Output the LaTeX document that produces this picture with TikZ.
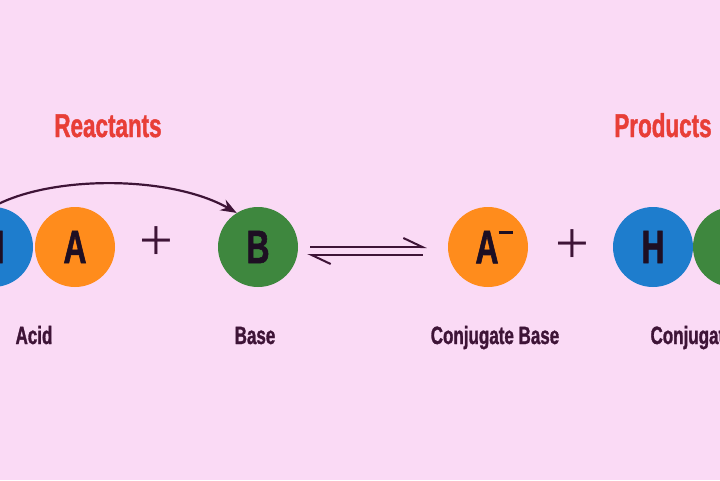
\documentclass[tikz,border=0pt]{standalone}
\usepackage{fontspec}
\newfontfamily\narrowfont{Liberation Sans Bold}[FakeStretch=0.68, FakeBold=1.2]
\newfontfamily\plusfont{Liberation Serif}
\usepackage{tikz}
\usetikzlibrary{arrows.meta}

\definecolor{bgpink}{RGB}{250,218,245}
\definecolor{hblue}{RGB}{30,125,205}
\definecolor{aorange}{RGB}{255,140,28}
\definecolor{bgreen}{RGB}{62,135,62}
\definecolor{hdrred}{RGB}{232,62,55}
\definecolor{inktxt}{RGB}{62,20,55}
\definecolor{atomtxt}{RGB}{30,15,35}

\begin{document}
\begin{tikzpicture}[x=1pt, y=-1pt,
  atom/.style={circle, minimum size=80pt, inner sep=0pt, text=atomtxt, font=\narrowfont\fontsize{47}{47}\selectfont},
  hatom/.style={atom, fill=hblue},
  aatom/.style={atom, fill=aorange},
  batom/.style={atom, fill=bgreen},
  hdr/.style={anchor=base, text=hdrred, font=\narrowfont\fontsize{33}{33}\selectfont},
  lbl/.style={anchor=base, text=inktxt, font=\narrowfont\fontsize{25}{25}\selectfont},
  pls/.style={text=inktxt, font=\plusfont\fontsize{60}{60}\selectfont},
  harp/.style={-{Straight Barb[harpoon, length=19pt, width=18pt]}, line width=2pt, draw=inktxt},
  arr/.style={-{Stealth[length=16pt, width=12pt]}, line width=2.2pt, draw=inktxt}
]
\useasboundingbox (0,0) rectangle (720,480);
\fill[bgpink] (0,0) rectangle (720,480);
\clip (0,0) rectangle (720,480);

% reactants
\node[hdr] (reac) at (108,137) {Reactants};
\node[hatom] (h1) at (-7,247) {H};
\node[aatom] (a1) at (75,247) {A};
\node[pls] (p1) at (156,244) {+};
\node[batom] (b1) at (258,247) {B};
\node[lbl] (l1) at (34,344) {Acid};
\node[lbl] (l2) at (255,344) {Base};

% products
\node[hdr] (prod) at (663,137) {Products};
\node[aatom] (a2) at (488,247) {\hspace*{12pt}A\rule[29pt]{14pt}{3.5pt}};
\node[pls] (p2) at (572,247) {+};
\node[hatom] (h2) at (653,247) {H};
\node[batom] (b2) at (733,247) {};
\node[lbl] (l3) at (495,344) {Conjugate Base};
\node[lbl, anchor=base west] (l4) at (647,344) {Conjugate Acid};

% proton transfer and equilibrium
\draw[arr] (h1.north) .. controls (50,175) and (170,175) .. (b1.122);
\draw[harp, shorten <=12pt, shorten >=21pt] (b1.east) -- (a2.west);
\draw[harp, shorten <=25pt, shorten >=9pt] ([yshift=-8pt]a2.west) -- ([yshift=-8pt]b1.east);
\end{tikzpicture}
\end{document}
